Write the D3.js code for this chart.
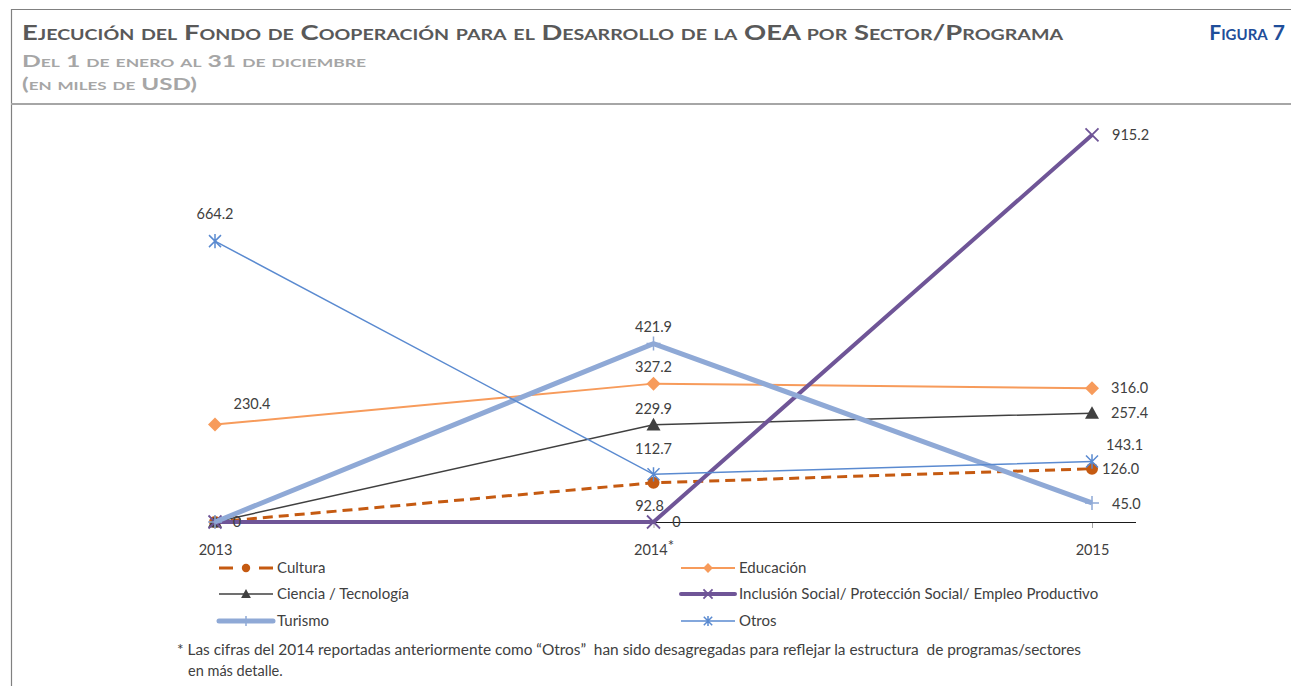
<!DOCTYPE html>
<html>
<head>
<meta charset="utf-8">
<script src="https://cdn.jsdelivr.net/npm/d3@7"></script>
<style>
  body { margin: 0; background: #fff; }
  text { font-family: "Lato", "Open Sans", sans-serif; }
</style>
</head>
<body>
<script>
// ---- data ----
const years = ['2013', '2014', '2015'];
const cultura   = [0, 92.8, 126.0];
const educacion = [230.4, 327.2, 316.0];
const ciencia   = [0, 229.9, 257.4];
const inclusion = [0, 0, 915.2];
const turismo   = [0, 421.9, 45.0];
const otros     = [664.2, 112.7, 143.1];
const seriesNames = ['Cultura', 'Educación', 'Ciencia / Tecnología',
  'Inclusión Social/ Protección Social/ Empleo Productivo', 'Turismo', 'Otros'];
// which points carry a data label (null = no label)
const labelText = [
  ['0', '92.8', '126.0'],
  ['230.4', '327.2', '316.0'],
  [null, '229.9', '257.4'],
  [null, '0', '915.2'],
  [null, '421.9', '45.0'],
  ['664.2', '112.7', '143.1']
];

const W = 1291, H = 686;
const svg = d3.select('body').append('svg')
  .attr('width', W).attr('height', H);

// frame
svg.append('line').attr('x1', 11).attr('x2', W).attr('y1', 9.5).attr('y2', 9.5)
  .attr('stroke', '#808080').attr('stroke-width', 1.2);
svg.append('line').attr('x1', 11.5).attr('x2', 11.5).attr('y1', 9).attr('y2', H)
  .attr('stroke', '#808080').attr('stroke-width', 1.2);
svg.append('line').attr('x1', 11).attr('x2', W).attr('y1', 104).attr('y2', 104)
  .attr('stroke', '#a6a6a6').attr('stroke-width', 2);

// titles
svg.append('text').attr('x', 22).attr('y', 40)
  .attr('font-size', 21).attr('font-weight', 700).attr('fill', '#595959')
  .style('font-variant', 'small-caps')
  .attr('textLength', 1041).attr('lengthAdjust', 'spacingAndGlyphs')
  .text('Ejecución del Fondo de Cooperación para el Desarrollo de la OEA  por Sector/Programa');
svg.append('text').attr('x', 1285).attr('y', 40).attr('text-anchor', 'end')
  .attr('font-size', 21).attr('font-weight', 700).attr('fill', '#1f4e9a')
  .style('font-variant', 'small-caps')
  .text('Figura 7');
svg.append('text').attr('x', 22).attr('y', 67)
  .attr('font-size', 17).attr('font-weight', 700).attr('fill', '#a6a6a6')
  .style('font-variant', 'small-caps')
  .attr('textLength', 344).attr('lengthAdjust', 'spacingAndGlyphs')
  .text('Del 1 de enero al 31 de diciembre');
svg.append('text').attr('x', 22).attr('y', 90)
  .attr('font-size', 17).attr('font-weight', 700).attr('fill', '#a6a6a6')
  .style('font-variant', 'small-caps')
  .attr('textLength', 175).attr('lengthAdjust', 'spacingAndGlyphs')
  .text('(en miles de USD)');

// scales
const x = d3.scalePoint().domain(years).range([215, 1092]);
const y = d3.scaleLinear().domain([0, 1000]).range([522, 99.1]);

// axis
const axisG = svg.append('g').attr('transform', 'translate(0,522)')
  .call(d3.axisBottom(x).tickSize(6).tickPadding(17).tickFormat(d => d));
axisG.select('.domain').remove();
axisG.selectAll('.tick line').attr('stroke', '#a6a6a6');
axisG.selectAll('.tick text').attr('font-size', 14.5).attr('fill', '#404040')
  .style('font-family', '"Lato", sans-serif');
axisG.selectAll('.tick text').filter(d => d === '2014')
  .append('tspan').attr('dy', '-0.3em').attr('font-size', 15).text('*');
svg.append('line').attr('x1', 215).attr('x2', 1136).attr('y1', 522.5).attr('y2', 522.5)
  .attr('stroke', '#1a1a1a').attr('stroke-width', 1);

// series styling
const styles = [
  { color: '#c55a11', width: 3, dash: '10,6', marker: 'circle' },
  { color: '#f79b5b', width: 2, dash: null, marker: 'diamond' },
  { color: '#404040', width: 1.5, dash: null, marker: 'triangle' },
  { color: '#6f5597', width: 4, dash: null, marker: 'x' },
  { color: '#8fa9d6', width: 5, dash: null, marker: 'plus' },
  { color: '#5a8ad0', width: 1.5, dash: null, marker: 'star' }
];
const allValues = [cultura, educacion, ciencia, inclusion, turismo, otros];

function drawMarker(g, type, color, cx, cy, legend) {
  const s = legend ? 0.7 : 1;
  if (type === 'circle') {
    g.append('circle').attr('cx', cx).attr('cy', cy).attr('r', 6 * s).attr('fill', color);
  } else if (type === 'diamond') {
    const r = 7 * s;
    g.append('path').attr('d', `M${cx},${cy - r}L${cx + r},${cy}L${cx},${cy + r}L${cx - r},${cy}Z`)
      .attr('fill', color);
  } else if (type === 'triangle') {
    const r = 7 * s;
    g.append('path').attr('d', `M${cx},${cy - r}L${cx + r},${cy + r * 0.8}L${cx - r},${cy + r * 0.8}Z`)
      .attr('fill', color);
  } else if (type === 'x') {
    const r = 6.5 * s;
    g.append('path').attr('d', `M${cx - r},${cy - r}L${cx + r},${cy + r}M${cx - r},${cy + r}L${cx + r},${cy - r}`)
      .attr('stroke', color).attr('stroke-width', 1.8).attr('fill', 'none');
  } else if (type === 'plus') {
    const r = 7 * s;
    g.append('path').attr('d', `M${cx - r},${cy}L${cx + r},${cy}M${cx},${cy - r}L${cx},${cy + r}`)
      .attr('stroke', color).attr('stroke-width', 1.5).attr('fill', 'none');
  } else if (type === 'star') {
    const r = 6 * s;
    g.append('path').attr('d', `M${cx - r},${cy - r}L${cx + r},${cy + r}M${cx - r},${cy + r}L${cx + r},${cy - r}M${cx},${cy - r * 1.2}L${cx},${cy + r * 1.2}`)
      .attr('stroke', color).attr('stroke-width', 1.5).attr('fill', 'none');
  }
}

const line = d3.line().x((d, i) => x(years[i])).y(d => y(d));
const plot = svg.append('g');
allValues.forEach((vals, si) => {
  const st = styles[si];
  const g = plot.append('g');
  g.append('path').datum(vals).attr('d', line)
    .attr('fill', 'none').attr('stroke', st.color).attr('stroke-width', st.width)
    .attr('stroke-dasharray', st.dash);
  vals.forEach((v, i) => drawMarker(g, st.marker, st.color, x(years[i]), y(v), false));
});

// data labels: offsets relative to each point [dx, dy, anchor]
const labelPos = [
  [[22, 5, 'middle'], [-4, 28, 'middle'], [10, 5, 'start']],
  [[37, -16, 'middle'], [0, -12, 'middle'], [19, 5, 'start']],
  [null, [0, -11, 'middle'], [19, 5, 'start']],
  [null, [23, 5, 'middle'], [20, 5, 'start']],
  [null, [0, -12, 'middle'], [20, 6, 'start']],
  [[0, -22, 'middle'], [0, -20, 'middle'], [14, -11, 'start']]
];
const labelG = svg.append('g');
labelText.forEach((row, si) => {
  row.forEach((t, i) => {
    if (t === null) return;
    const p = labelPos[si][i];
    labelG.append('text')
      .attr('x', x(years[i]) + p[0]).attr('y', y(allValues[si][i]) + p[1])
      .attr('text-anchor', p[2]).attr('font-size', 14.5).attr('fill', '#404040')
      .text(t);
  });
});

// legend
const legendCols = [219, 681];
const legendRows = [568, 594, 621];
const legendG = svg.append('g');
seriesNames.forEach((name, si) => {
  const st = styles[si];
  const lx = legendCols[si % 2], ly = legendRows[Math.floor(si / 2)];
  if (st.dash) {
    legendG.append('line').attr('x1', lx).attr('x2', lx + 14).attr('y1', ly).attr('y2', ly)
      .attr('stroke', st.color).attr('stroke-width', st.width);
    legendG.append('line').attr('x1', lx + 40).attr('x2', lx + 54).attr('y1', ly).attr('y2', ly)
      .attr('stroke', st.color).attr('stroke-width', st.width);
  } else {
    legendG.append('line').attr('x1', lx).attr('x2', lx + 54).attr('y1', ly).attr('y2', ly)
      .attr('stroke', st.color).attr('stroke-width', st.width)
      .attr('stroke-linecap', st.width >= 4 ? 'round' : 'butt');
  }
  drawMarker(legendG, st.marker, st.color, lx + 27, ly, true);
  legendG.append('text').attr('x', lx + 58).attr('y', ly + 5)
    .attr('font-size', 15).attr('fill', '#404040').text(name);
});

// footnote
svg.append('text').attr('x', 177).attr('y', 655)
  .attr('font-size', 14.5).attr('fill', '#404040')
  .style('white-space', 'pre')
  .attr('textLength', 904).attr('lengthAdjust', 'spacingAndGlyphs')
  .text('* Las cifras del 2014 reportadas anteriormente como “Otros”  han sido desagregadas para reflejar la estructura  de programas/sectores');
svg.append('text').attr('x', 188).attr('y', 676)
  .attr('font-size', 14.5).attr('fill', '#404040')
  .text('en más detalle.');
</script>
</body>
</html>
